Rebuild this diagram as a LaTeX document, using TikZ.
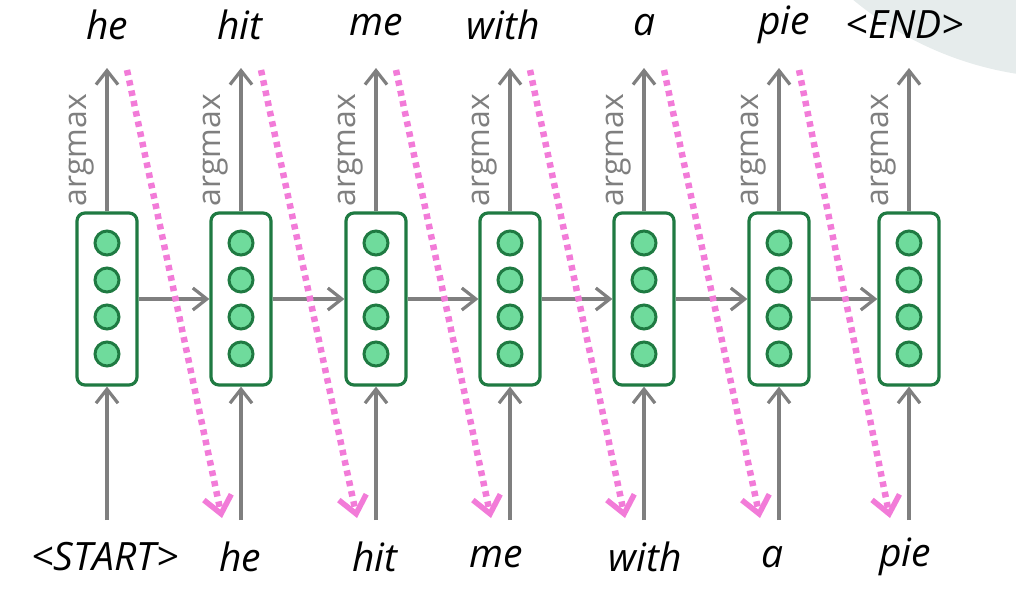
\documentclass[tikz,border=0pt]{standalone}
\usepackage{fontspec}
\setmainfont{Open Sans}
\usetikzlibrary{arrows.meta}
\definecolor{cellgreen}{HTML}{1F7A42}
\definecolor{dotfill}{HTML}{6FDB9C}
\definecolor{arrgray}{HTML}{7F7F7F}
\definecolor{pinkdot}{HTML}{F27BD8}
\definecolor{blob}{HTML}{E6ECEC}
\tikzset{
  cellbox/.style={draw=cellgreen, line width=3.2pt, rounded corners=8pt, minimum width=60pt, minimum height=172pt, inner sep=0pt},
  neuron/.style={circle, draw=cellgreen, fill=dotfill, line width=3pt, minimum size=24pt, inner sep=0pt},
  grayarrow/.style={draw=arrgray, line width=3.2pt, -{Straight Barb[length=14pt, width=22pt, line width=3.2pt]}},
  pinkarrow/.style={draw=pinkdot, line width=6.5pt, dash pattern=on 5.5pt off 5pt, -{Straight Barb[length=17pt, width=28pt, line width=5.5pt]}},
  word/.style={font=\fontsize{39}{39}\selectfont\itshape, inner sep=0pt},
  amlabel/.style={font=\fontsize{32}{32}\selectfont, text=arrgray, rotate=90, inner sep=0pt}
}
\begin{document}
\begin{tikzpicture}[x=1pt,y=-1pt]
\useasboundingbox (0,0) rectangle (1016,598);
\begin{scope}
\clip (0,0) rectangle (1016,598);
\fill[blob] (1070,-262) circle (340);
\end{scope}
% cells
\foreach \i/\x in {1/107,2/241,3/376,4/510,5/644,6/779,7/909}{
  \node[cellbox] (c\i) at (\x,299) {};
  \foreach \j/\y in {1/243,2/280,3/317,4/354}{
    \node[neuron] (n\i\j) at (\x,\y) {};
  }
  \coordinate (top\i) at (\x,68);
  \coordinate (bot\i) at (\x,520);
  \draw[grayarrow] (c\i.north) -- (top\i);
  \draw[grayarrow] (bot\i) -- (c\i.south);
  \node[amlabel] (am\i) at (\x-25,150) {argmax};
}
% horizontal arrows
\foreach \i/\k in {1/2,2/3,3/4,4/5,5/6,6/7}{
  \draw[grayarrow] (c\i.east) -- (c\k.west);
}
% output words
\node[word] (o1) at (107,25) {he};
\node[word] (o2) at (240,25) {hit};
\node[word] (o3) at (376,25) {me};
\node[word] (o4) at (503,25) {with};
\node[word] (o5) at (645,25) {a};
\node[word] (o6) at (784,25) {pie};
\node[word] (o7) at (905,25) {<END>};
% input words
\node[word] (i1) at (105,557) {<START>};
\node[word] (i2) at (240,557) {he};
\node[word] (i3) at (375,557) {hit};
\node[word] (i4) at (496,557) {me};
\node[word] (i5) at (645,557) {with};
\node[word] (i6) at (773,557) {a};
\node[word] (i7) at (905,557) {pie};
% pink feedback arrows
\foreach \i/\k/\x/\xx in {1/2/107/241,2/3/241/376,3/4/376/510,4/5/510/644,5/6/644/779,6/7/779/909}{
  \coordinate (ps\i) at (\x+20,70);
  \coordinate (pe\k) at (\xx-19,518);
  \draw[pinkarrow] (ps\i) -- (pe\k);
}
\end{tikzpicture}
\end{document}
